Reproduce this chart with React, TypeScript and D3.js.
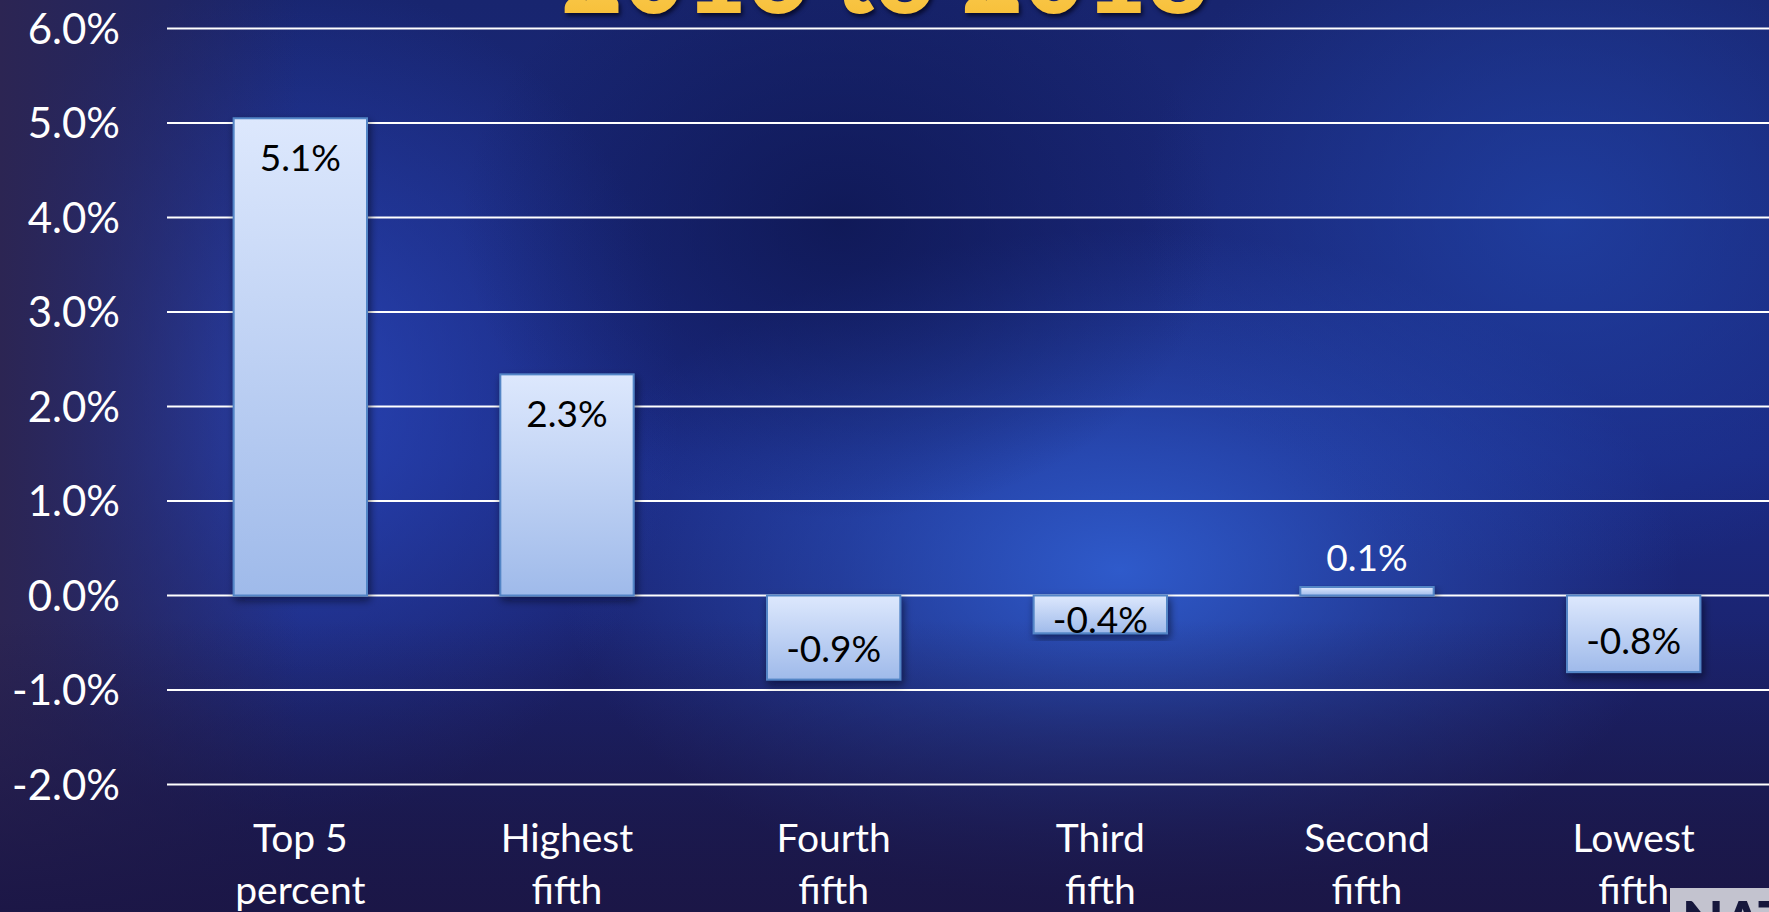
import React from 'react';
import * as d3 from 'd3';

const W = 1769, H = 912;

const categories = [["Top 5", "percent"], ["Highest", "fifth"], ["Fourth", "fifth"], ["Third", "fifth"], ["Second", "fifth"], ["Lowest", "fifth"]];
const values = [5.05, 2.34, -0.89, -0.4, 0.09, -0.81];
const dataLabels = ["5.1%", "2.3%", "-0.9%", "-0.4%", "0.1%", "-0.8%"];
const yTicks = [-2, -1, 0, 1, 2, 3, 4, 5, 6];
const title = "2016 to 2018";

const FONT = "Lato, 'Open Sans', sans-serif";

// plain hyphen instead of d3's unicode minus
const fmtTick = (t: number) => d3.format(".1f")(t).replace("\u2212", "-") + "%";

function App() {
  const margin = { top: 28.5, right: 2, bottom: 127.5, left: 167 };

  const x = d3.scaleBand<number>()
    .domain(d3.range(categories.length))
    .range([margin.left, margin.left + 1600])
    .paddingInner(0.5)
    .paddingOuter(0.25);

  const y = d3.scaleLinear()
    .domain([-2, 6])
    .range([H - margin.bottom, margin.top]);

  const y0 = y(0);

  return (
    <svg width={W} height={H} style={{ position: 'absolute', left: 0, top: 0, display: 'block' }}>
      <defs>
        <linearGradient id="bg" x1="0" y1="0" x2="0" y2="1">
          <stop offset="0" stopColor="#18256f" />
          <stop offset="0.5" stopColor="#1b2a84" />
          <stop offset="1" stopColor="#1a1b55" />
        </linearGradient>
        <radialGradient id="glowC" cx="0.5" cy="0.5" r="0.5">
          <stop offset="0" stopColor="#3160d4" stopOpacity="0.9" />
          <stop offset="0.5" stopColor="#3160d4" stopOpacity="0.4" />
          <stop offset="1" stopColor="#3160d4" stopOpacity="0" />
        </radialGradient>
        <radialGradient id="glowL" cx="0.5" cy="0.5" r="0.5">
          <stop offset="0" stopColor="#2a47bb" stopOpacity="0.85" />
          <stop offset="0.5" stopColor="#2a47bb" stopOpacity="0.4" />
          <stop offset="1" stopColor="#2a47bb" stopOpacity="0" />
        </radialGradient>
        <radialGradient id="glowR" cx="0.5" cy="0.5" r="0.5">
          <stop offset="0" stopColor="#2143a8" stopOpacity="0.75" />
          <stop offset="1" stopColor="#2143a8" stopOpacity="0" />
        </radialGradient>
        <radialGradient id="darkC" cx="0.5" cy="0.5" r="0.5">
          <stop offset="0" stopColor="#0e1650" stopOpacity="0.8" />
          <stop offset="1" stopColor="#0e1650" stopOpacity="0" />
        </radialGradient>
        <linearGradient id="leftEdge" x1="0" y1="0" x2="1" y2="0">
          <stop offset="0" stopColor="#2c2553" stopOpacity="1" />
          <stop offset="1" stopColor="#2c2553" stopOpacity="0" />
        </linearGradient>
        <linearGradient id="bottomEdge" x1="0" y1="0" x2="0" y2="1">
          <stop offset="0" stopColor="#1b1646" stopOpacity="0" />
          <stop offset="1" stopColor="#1b1646" stopOpacity="0.95" />
        </linearGradient>
        <linearGradient id="barFill" x1="0" y1="0" x2="0" y2="1">
          <stop offset="0" stopColor="#dde8fd" />
          <stop offset="1" stopColor="#9fbaea" />
        </linearGradient>
        <linearGradient id="titleFill" x1="0" y1="0" x2="0" y2="1">
          <stop offset="0" stopColor="#fde27a" />
          <stop offset="1" stopColor="#f6b92e" />
        </linearGradient>
        <filter id="shadow" x="-20%" y="-20%" width="140%" height="140%">
          <feDropShadow dx="2" dy="4" stdDeviation="4" floodColor="#000018" floodOpacity="0.55" />
        </filter>
      </defs>

      {/* Background */}
      <rect width={W} height={H} fill="url(#bg)" />
      <ellipse cx={300} cy={400} rx={380} ry={420} fill="url(#glowL)" />
      <ellipse cx={1120} cy={570} rx={560} ry={340} fill="url(#glowC)" />
      <ellipse cx={1560} cy={220} rx={420} ry={360} fill="url(#glowR)" />
      <ellipse cx={840} cy={220} rx={380} ry={300} fill="url(#darkC)" />
      <rect width={300} height={H} fill="url(#leftEdge)" />
      <rect y={620} width={W} height={H - 620} fill="url(#bottomEdge)" />

      {/* Title (cut off at top) */}
      <text x={561} y={13} textLength={648} lengthAdjust="spacingAndGlyphs"
        fontFamily={FONT} fontWeight={900} fontSize={112} fill="url(#titleFill)"
        style={{ filter: 'drop-shadow(2px 3px 2px rgba(0,0,20,0.7))' }}>{title}</text>

      {/* Grid */}
      {yTicks.map(t => (
        <line key={t} x1={margin.left} x2={W} y1={y(t)} y2={y(t)} stroke="#ffffff" strokeWidth={2} />
      ))}

      {/* Y tick labels */}
      {yTicks.map(t => (
        <text key={t} x={120} y={y(t)} dy="0.36em" textAnchor="end" fontFamily={FONT}
          fontSize={42} fill="#ffffff">{fmtTick(t)}</text>
      ))}

      {/* Bars */}
      {values.map((v, i) => {
        const top = y(Math.max(0, v));
        const h = Math.abs(y(v) - y0);
        return (
          <rect key={i} x={x(i)} y={top} width={x.bandwidth()} height={h}
            fill="url(#barFill)" stroke="#5285c6" strokeWidth={2} filter="url(#shadow)" />
        );
      })}

      {/* Data labels */}
      {values.map((v, i) => {
        const cx = x(i)! + x.bandwidth() / 2;
        const h = Math.abs(y(v) - y0);
        let by: number;
        let color = "#000000";
        if (v >= 0 && h > 40) by = y(v) + 53;
        else if (v >= 0) { by = y(v) - 16; color = "#ffffff"; }
        else by = Math.max(y(v) - 18, y0 + 37);
        return (
          <text key={i} x={cx} y={by} textAnchor="middle" fontFamily={FONT}
            fontSize={37} fill={color}>{dataLabels[i]}</text>
        );
      })}

      {/* Category labels */}
      {categories.map((lines, i) => (
        <text key={i} x={x(i)! + x.bandwidth() / 2} textAnchor="middle" fontFamily={FONT}
          fontSize={39} fill="#ffffff">
          {lines.map((l, j) => (
            <tspan key={j} x={x(i)! + x.bandwidth() / 2} y={852 + j * 52}>{l}</tspan>
          ))}
        </text>
      ))}

      {/* Logo corner */}
      <rect x={1670} y={888} width={W - 1670} height={H - 888} fill="#c3c3cf" />
      <text x={1682} y={940} fontFamily={FONT} fontWeight={900} fontSize={54} fill="#16173c">NAT</text>
    </svg>
  );
}

export default App;
